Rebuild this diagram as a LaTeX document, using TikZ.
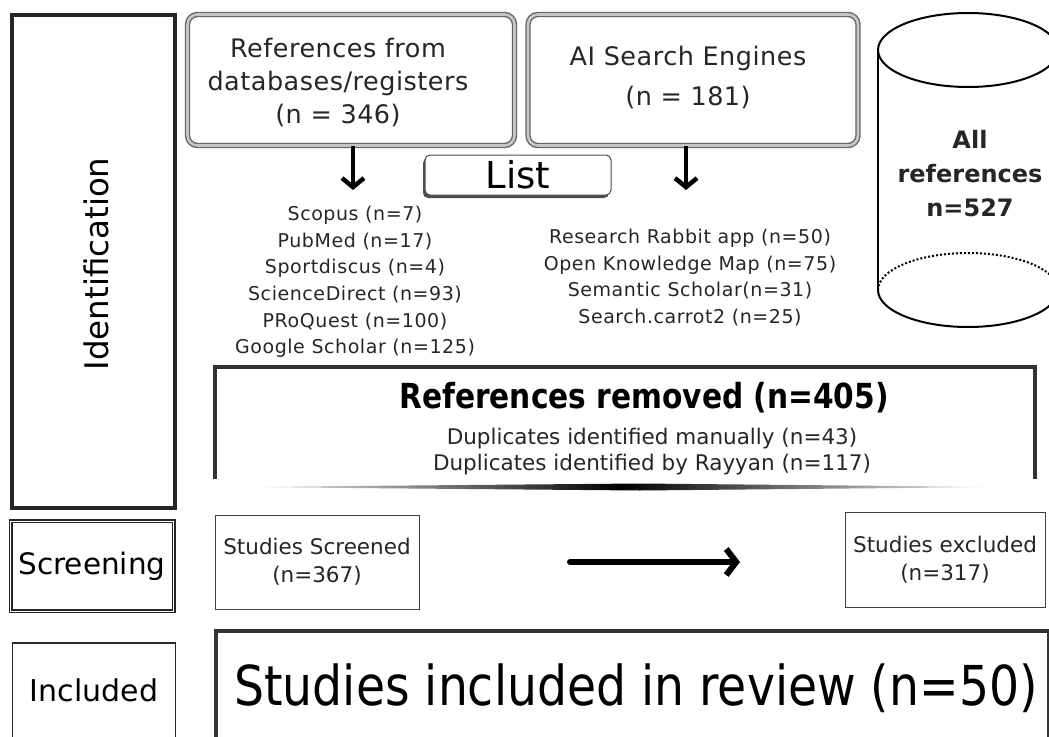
\documentclass[tikz,border=0pt]{standalone}
\usepackage{fontspec}
\setmainfont{DejaVu Sans}
\newfontfamily\cond[FakeStretch=0.86]{DejaVu Sans}
\usetikzlibrary{arrows.meta,shadows}
\tikzset{
  phase/.style={draw=black!85, line width=#1, fill=white, inner sep=0pt},
  srcbox/.style={draw=black!60, double=gray!45, double distance=2.6pt, line width=1.4pt, rounded corners=10pt, fill=white, align=center, inner sep=0pt},
  thinbox/.style={draw=black!75, line width=1pt, align=center, inner sep=0pt},
  bigbox/.style={draw=black!80, line width=4pt, inner sep=0pt},
  listtxt/.style={align=center, font=\addfontfeature{LetterSpace=3}\fontsize{19}{26.6}\selectfont, text=black!85, inner sep=0pt},
  downarr/.style={line width=4.5pt, -{Straight Barb[length=9pt,width=22pt,line width=4.5pt]}},
}
\begin{document}
\begin{tikzpicture}[x=1pt,y=-1pt]
\useasboundingbox (0,0) rectangle (1049,736);
% phase column
\node[phase=3.5pt, minimum width=163pt, minimum height=493pt] (ident) at (93.5,261.5) {};
\node[rotate=90, font=\fontsize{32.5}{32.5}\selectfont] (identlbl) at (96,264) {Identification};
\node[phase=1.5pt, double, double distance=1pt, minimum width=163pt, minimum height=90pt, font=\fontsize{29.5}{29.5}\selectfont] (screen) at (92,566) {Screening};
\node[phase=1.5pt, minimum width=163pt, minimum height=100pt, anchor=north] (incl) at (94,642) {};
\node[font=\fontsize{30}{30}\selectfont] (incllbl) at (94,690) {Included};
% source boxes
\node[srcbox, minimum width=327pt, minimum height=131pt] (db) at (351,80) {};
\node[align=center, font=\addfontfeature{LetterSpace=2}\fontsize{25.5}{33}\selectfont, text=black!85] (dblbl) at (338,82) {References from\\databases/registers\\(n = 346)};
\node[srcbox, minimum width=330pt, minimum height=131pt] (ai) at (693,80) {};
\node[align=center, font=\addfontfeature{LetterSpace=2}\fontsize{25.5}{40}\selectfont, text=black!85] (ailbl) at (688,77) {AI Search Engines\\(n = 181)};
% list button
\node[draw=black!70, line width=1pt, rounded corners=5pt, fill=white, minimum width=186pt, minimum height=40pt, font=\fontsize{37}{37}\selectfont,
      drop shadow={shadow xshift=-2pt, shadow yshift=-3pt, fill=black!70, opacity=1}] (list) at (518,175) {List};
% arrows
\coordinate (dbarr) at (353,190);
\coordinate (aiarr) at (686,190);
\draw[downarr] (db.south -| dbarr) -- (dbarr);
\draw[downarr] (ai.south -| aiarr) -- (aiarr);
% lists
\node[listtxt, anchor=north] (dblist) at (355,206) {Scopus (n=7)\\PubMed (n=17)\\Sportdiscus (n=4)\\ScienceDirect (n=93)\\PRoQuest (n=100)\\Google Scholar (n=125)};
\node[listtxt, anchor=north] (ailist) at (690,229) {Research Rabbit app (n=50)\\Open Knowledge Map (n=75)\\Semantic Scholar(n=31)\\Search.carrot2 (n=25)};
% cylinder
\draw[line width=2pt] (968,50) ellipse [x radius=90pt, y radius=37pt];
\draw[line width=2pt] (878,50) -- (878,290);
\draw[line width=2pt] (878,290) arc[start angle=180, end angle=360, x radius=90pt, y radius=37pt];
\draw[line width=2pt, dotted] (878,290) arc[start angle=180, end angle=0, x radius=90pt, y radius=37pt];
\node[align=center, font=\bfseries\fontsize{24}{34}\selectfont, text=black!85] (allref) at (970,174) {All\\references\\n=527};
% references removed
\node[inner sep=0pt, minimum width=820pt, minimum height=112pt] (removed) at (625,423) {};
\draw[line width=4pt, draw=black!80] (removed.south west) -- (removed.north west) -- (removed.north east) -- (removed.south east);
\node[font=\cond\bfseries\fontsize{34.5}{34.5}\selectfont] (remtitle) at (644,398) {References removed (n=405)};
\node[listtxt, font=\fontsize{21.5}{26}\selectfont, anchor=north] (remlist) at (652,428) {Duplicates identified manually (n=43)\\Duplicates identified by Rayyan (n=117)};
\shade[left color=white, right color=white, middle color=black] (235,487) -- (640,483.5) -- (1005,487) -- (640,490.5) -- cycle;
% screening row
\node[thinbox, minimum width=204pt, minimum height=94pt, font=\fontsize{21.5}{28}\selectfont, text=black!85] (scr) at (317,562) {Studies Screened\\(n=367)};
\node[thinbox, minimum width=200pt, minimum height=95pt, font=\fontsize{21.5}{28}\selectfont, text=black!85] (exc) at (945,560) {Studies excluded\\(n=317)};
\coordinate (arrs) at (570,562);
\coordinate (arre) at (740,562);
\draw[line width=6pt, line cap=round, -{Straight Barb[length=10pt,width=26pt,line width=6pt]}] (arrs) -- (arre);
% included
\node[bigbox, minimum width=833pt, minimum height=130pt, anchor=north west] (rev) at (214,629) {};
\node[font=\cond\fontsize{55}{55}\selectfont] (revlbl) at (636,688) {Studies included in review (n=50)};
\end{tikzpicture}
\end{document}
